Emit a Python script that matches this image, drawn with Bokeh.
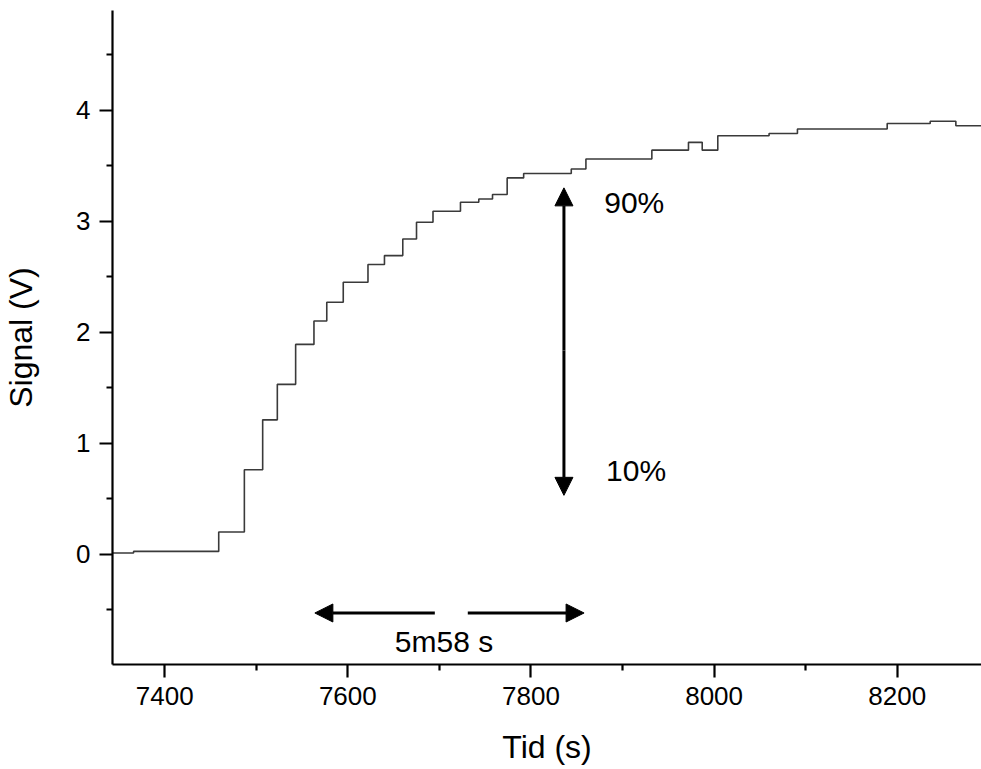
from bokeh.plotting import figure
from bokeh.models import Range1d, FixedTicker, Arrow, NormalHead, Label
from bokeh.embed import file_html
from bokeh.resources import INLINE

# --- data ---
time_s = [7343, 7366, 7459, 7487, 7507, 7523, 7543, 7563, 7577, 7595, 7622, 7640,
          7660, 7675, 7693, 7723, 7743, 7758, 7774, 7792, 7844, 7860, 7932, 7972,
          7987, 8004, 8060, 8091, 8189, 8236, 8264, 8292]
signal_v = [0.01, 0.025, 0.20, 0.76, 1.21, 1.53, 1.89, 2.10, 2.27, 2.45, 2.61, 2.69,
            2.84, 2.99, 3.09, 3.17, 3.20, 3.24, 3.39, 3.43, 3.47, 3.56, 3.64, 3.71,
            3.64, 3.77, 3.79, 3.83, 3.88, 3.90, 3.86, 3.86]
x_ticks = [7400, 7600, 7800, 8000, 8200]
x_minor = [7500, 7700, 7900, 8100]
y_ticks = [0, 1, 2, 3, 4]
y_minor = [-0.5, 0.5, 1.5, 2.5, 3.5, 4.5]

FONT = "Liberation Sans"

p = figure(width=981, height=769, output_backend="svg", toolbar_location=None,
           x_range=Range1d(7343, 8292), y_range=Range1d(-0.994, 4.898),
           min_border_left=111, min_border_right=0, min_border_top=10,
           min_border_bottom=105)
p.outline_line_color = None
p.xgrid.visible = False
p.ygrid.visible = False
p.background_fill_color = "white"
p.border_fill_color = "white"

p.step(time_s, signal_v, mode="after", line_color="#3a3a3a", line_width=1.6)

for ax in (p.xaxis[0], p.yaxis[0]):
    ax.axis_line_width = 2.2
    ax.axis_line_color = "black"
    ax.major_tick_line_width = 2.2
    ax.minor_tick_line_width = 2.2
    ax.major_tick_out = 13
    ax.major_tick_in = 0
    ax.minor_tick_out = 6
    ax.minor_tick_in = 0
    ax.major_label_text_font = FONT
    ax.major_label_text_font_size = "26px"
    ax.major_label_text_color = "black"
    ax.axis_label_text_font = FONT
    ax.axis_label_text_font_size = "32px"
    ax.axis_label_text_font_style = "normal"
    ax.axis_label_text_color = "black"

p.xaxis.ticker = FixedTicker(ticks=x_ticks, minor_ticks=x_minor)
p.yaxis.ticker = FixedTicker(ticks=y_ticks, minor_ticks=y_minor)
p.xaxis.axis_label = "Tid (s)"
p.yaxis.axis_label = "Signal (V)"
p.xaxis.major_label_standoff = 9
p.yaxis.major_label_standoff = 9
p.xaxis.axis_label_standoff = 21
p.yaxis.axis_label_standoff = 34

def arrow(x0, y0, x1, y1):
    p.add_layout(Arrow(end=NormalHead(size=18, fill_color="black", line_color="black"),
                       x_start=x0, y_start=y0, x_end=x1, y_end=y1,
                       line_width=3, line_color="black"))

# vertical 10%-90% arrow
arrow(7836, 1.835, 7836, 3.30)
arrow(7836, 1.835, 7836, 0.53)
# horizontal time arrows
arrow(7695, -0.53, 7564, -0.53)
arrow(7731, -0.53, 7858, -0.53)

for txt, x, y, align in [("90%", 7880, 3.17, "left"), ("10%", 7882, 0.754, "left"),
                         ("5m58 s", 7705, -0.785, "center")]:
    p.add_layout(Label(x=x, y=y, text=txt, text_font=FONT, text_font_size="30px",
                       text_align=align, text_baseline="middle", text_color="black"))

open("out.html", "w").write(file_html(p, INLINE))
